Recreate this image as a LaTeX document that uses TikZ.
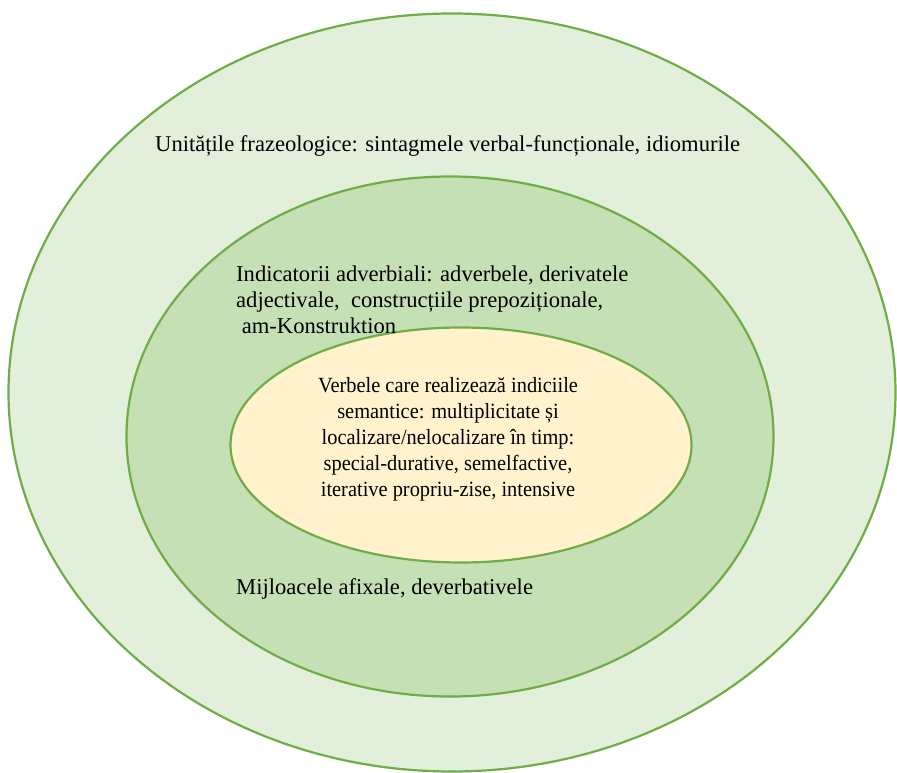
\documentclass[tikz,border=0pt]{standalone}
\usepackage{fontspec}
\setmainfont{Liberation Serif}
\newfontfamily\innerfont[FakeStretch=0.94]{Liberation Serif}
\usetikzlibrary{shapes.geometric}
\definecolor{ringline}{HTML}{70AD47}
\definecolor{outerfill}{HTML}{E2EFDA}
\definecolor{middlefill}{HTML}{C5E0B4}
\definecolor{innerfill}{HTML}{FFF2CC}
\begin{document}
\begin{tikzpicture}[x=1pt,y=-1pt, ring/.style={ellipse, draw=ringline, line width=2.2pt, inner sep=0pt}, txt/.style={font=\fontsize{22.6}{26}\selectfont, inner sep=0pt}]
   \useasboundingbox (0,0) rectangle (897,773);
   \node[ring, fill=outerfill, minimum width=887pt, minimum height=758pt] (outer) at (452,392.5) {};
   \node[ring, fill=middlefill, minimum width=647pt, minimum height=520pt] (middle) at (450,436.5) {};
   \node[ring, fill=innerfill, minimum width=461pt, minimum height=235pt] (inner) at (461,445) {};
   \node[txt, anchor=base west] (unit) at (155,151.7) {Unitățile frazeologice: sintagmele verbal-funcționale, idiomurile};
   \node[txt, anchor=north west, align=left] (indic) at (236,266) {Indicatorii adverbiali: adverbele, derivatele\\adjectivale,\ \ construcțiile prepoziționale,\\\ am-Konstruktion};
   \node[txt, font=\innerfont\fontsize{21.7}{26}\selectfont, align=center] (verb) at (448,439.5) {Verbele care realizează indiciile\\semantice: multiplicitate și\\localizare/nelocalizare în timp:\\special-durative, semelfactive,\\iterative propriu-zise, intensive};
   \node[txt, anchor=base west] (mijl) at (236,594) {Mijloacele afixale, deverbativele};
\end{tikzpicture}
\end{document}
